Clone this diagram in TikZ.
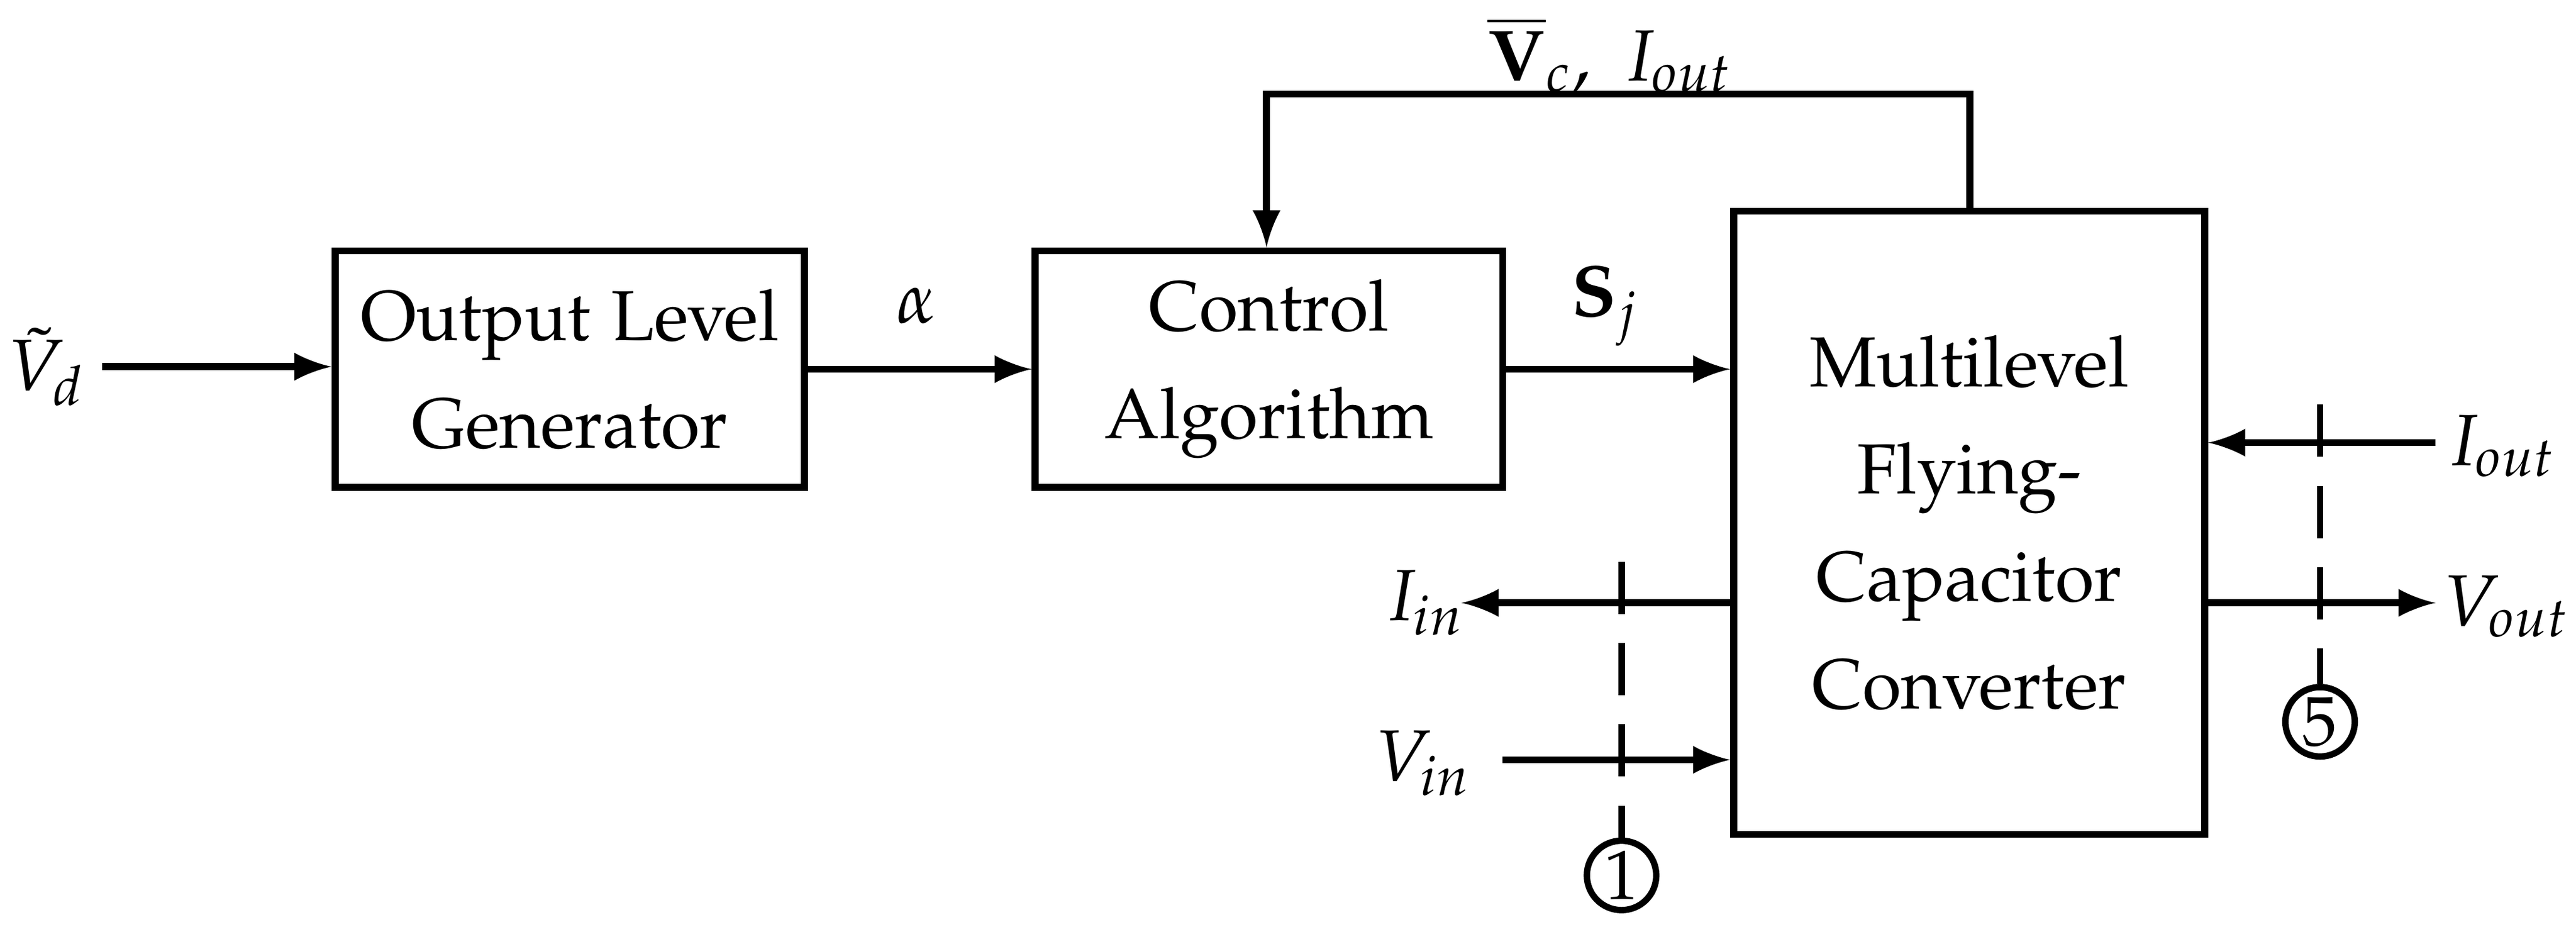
\documentclass[tikz,border=0pt]{standalone}
\usepackage[T1]{fontenc}
\usepackage{amsmath}
\usepackage{mathpazo}
\renewcommand{\rmdefault}{pplx}
\usetikzlibrary{positioning}
\tikzset{block/.style={draw,line width=1.2pt,align=center,font=\fontsize{12.2}{18.5}\selectfont,inner sep=0pt},
  sig/.style={line width=1.2pt,-latex},
  meas/.style={line width=1.1pt,dashed,dash pattern=on 9pt off 5pt},
  tag/.style={circle,draw,line width=1.1pt,minimum size=0.42cm,inner sep=0pt,font=\fontsize{12}{12}\selectfont},
  lbl/.style={font=\fontsize{12.5}{12.5}\selectfont}}
\begin{document}
\begin{tikzpicture}[x=0.01cm,y=-0.01cm]
\useasboundingbox (0,0) rectangle (1560,564);
    \node[block,minimum width=2.84cm,minimum height=1.43cm] (olg) at (345,223.5) {Output Level\\Generator};
    \node[block,minimum width=2.83cm,minimum height=1.43cm] (ca) at (768.5,223.5) {Control\\Algorithm};
    \node[block,minimum width=2.85cm,minimum height=3.77cm] (fc) at (1192.5,316.5) {Multilevel\\Flying-\\Capacitor\\Converter};

    \node[lbl] (vd) at (28,222) {$\tilde{V}_d$};
    \node[lbl] (alpha) at (555,185) {$\alpha$};
    \node[lbl] (sj) at (972,185) {$\mathbf{S}_j$};
    \node[lbl] (fb) at (975,33) {$\overline{\mathbf{V}}_c,\ I_{out}$};
    \node[lbl] (iin) at (863,365) {$I_{in}$};
    \node[lbl] (vin) at (862,462) {$V_{in}$};
    \node[lbl] (iout) at (1515,270) {$I_{out}$};
    \node[lbl] (vout) at (1518,367) {$V_{out}$};

    \coordinate (a) at (62,222);
    \coordinate (b) at (1193,57);
    \coordinate (c) at (767,57);
    \coordinate (d) at (885,365);
    \coordinate (e) at (910,460);
    \coordinate (f) at (1475,268);
    \coordinate (g) at (1475,365);

    \draw[sig] (a) -- (a -| olg.west);
    \draw[sig] (olg.east) -- (ca.west);
    \draw[sig] (ca.east) -- (ca.east -| fc.west);
    \draw[sig] (fc.north -| b) -- (b) -- (c) -- (c |- ca.north);
    \draw[sig] (d -| fc.west) -- (d);
    \draw[sig] (e) -- (e -| fc.west);
    \draw[sig] (f) -- (f -| fc.east);
    \draw[sig] (g -| fc.east) -- (g);

    \node[tag] (t1) at (982,530) {1};
    \node[tag] (t5) at (1405,437) {5};
    \coordinate (m1) at (982,340);
    \coordinate (m5) at (1405,245);
    \draw[meas] (m1) -- (t1.north);
    \draw[meas] (m5) -- (t5.north);
\end{tikzpicture}
\end{document}
